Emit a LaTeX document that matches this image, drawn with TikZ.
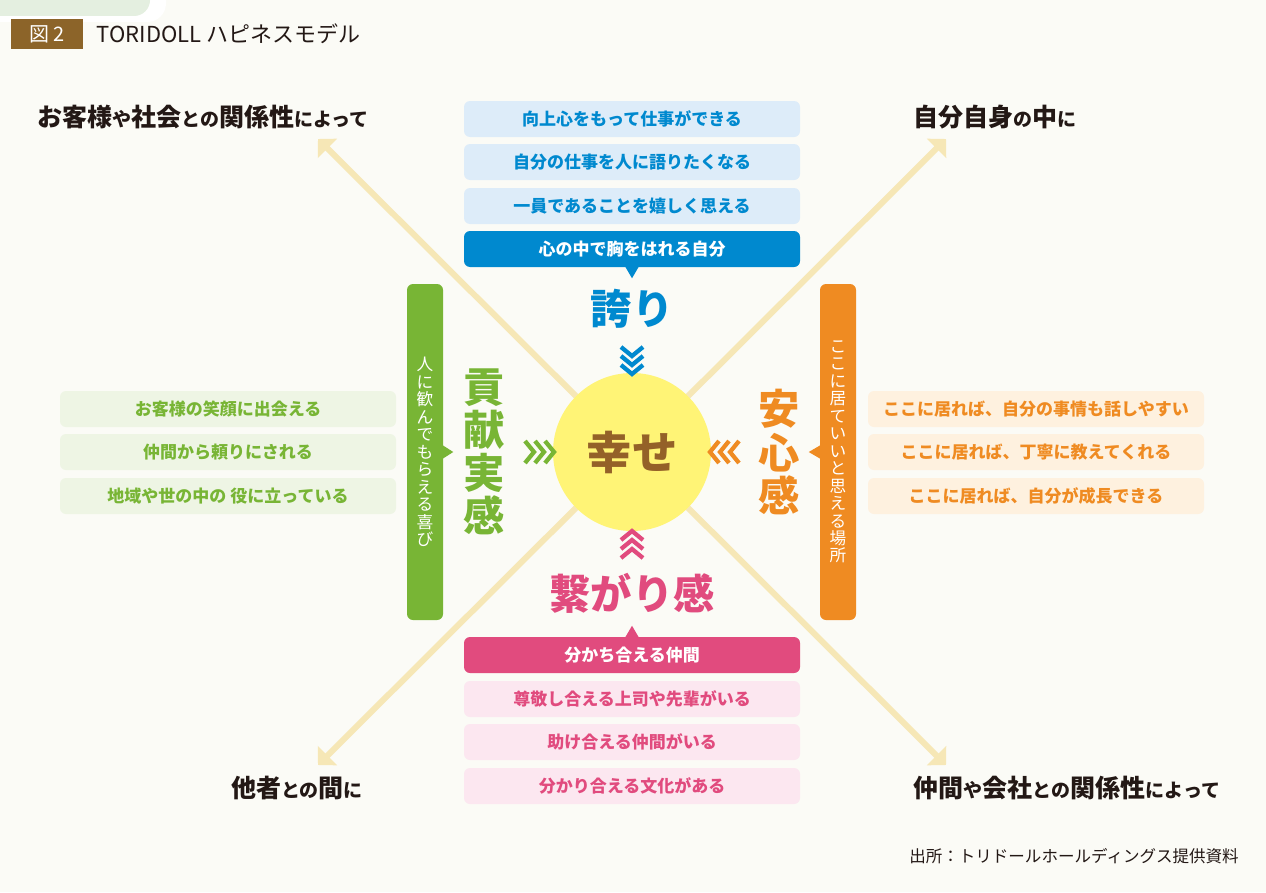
\documentclass[tikz,border=0pt]{standalone}
\usepackage{fontspec}
\setmainfont{Noto Sans CJK JP}
\usepackage{tikz}
\usetikzlibrary{positioning}
\usetikzlibrary{arrows.meta,calc}
\definecolor{bgcol}{HTML}{FBFBF6}
\definecolor{leaf}{HTML}{E4EFE0}
\definecolor{badge}{HTML}{8C6429}
\definecolor{ink}{HTML}{231815}
\definecolor{beam}{HTML}{F6E7B6}
\definecolor{sun}{HTML}{FFF476}
\definecolor{suntext}{HTML}{946128}
\definecolor{prideblue}{HTML}{0089CF}
\definecolor{pridelight}{HTML}{DDECF9}
\definecolor{bondpink}{HTML}{E14B7E}
\definecolor{bondlight}{HTML}{FCE7F0}
\definecolor{givegreen}{HTML}{78B535}
\definecolor{givelight}{HTML}{EEF5E4}
\definecolor{safeorange}{HTML}{EF8B22}
\definecolor{safelight}{HTML}{FEF1DF}
\tikzstyle{itembox}=[rounded corners=4.5pt,minimum width=252pt,minimum height=27pt,inner sep=0pt,font=\fontsize{12.75}{14}\selectfont\bfseries]
\tikzstyle{bigword}=[align=center,inner sep=0pt,font=\fontsize{31}{32.3}\selectfont\bfseries]
\tikzstyle{bar}=[rounded corners=4.5pt,minimum width=27pt,minimum height=252pt,inner sep=0pt,text=white,align=center,font=\fontsize{12.5}{13.1}\selectfont]
\tikzstyle{beamline}=[draw=beam,line width=4.5pt,-{Triangle[width=20pt,length=10pt]}]
\tikzstyle{chevron}=[line width=3.2pt]
\tikzstyle{corner}=[text=ink,inner sep=0pt,font=\fontsize{14.25}{16}\selectfont\bfseries]
\newcommand{\kanji}[1]{{\fontsize{18.75}{20}\selectfont #1}}

\begin{document}
\begin{tikzpicture}[x=0.75pt,y=-0.75pt]
    % Canvas and title
    \useasboundingbox[fill=bgcol] (0,0) rectangle (1266,892);
    \fill[white,rounded corners=14pt] (-40,-40) rectangle (166,22);
    \fill[leaf,rounded corners=12pt] (-40,-40) rectangle (150,16);
    \node[fill=badge,minimum width=54pt,minimum height=22.5pt,inner sep=0pt,text=white,font=\fontsize{15}{16}\selectfont] (fig) at (47,34) {図 2};
    \node[anchor=west,text=ink,font=\fontsize{16.5}{18}\selectfont] (title) at (92,34) {TORIDOLL ハピネスモデル};

    % Diagonal beams first, the sun goes on top
    \coordinate (hub) at (632,452);
    \coordinate (ul) at (318,139);
    \coordinate (ur) at (946,139);
    \coordinate (ll) at (318,765);
    \coordinate (lr) at (946,765);
    \foreach \far in {ul,ur,ll,lr}
        \path[beamline] (hub) -- (\far);
    \node[circle,fill=sun,minimum size=118.5pt,inner sep=0pt,text=suntext,font=\fontsize{34}{36}\selectfont\bfseries] (sun) at (hub) {幸せ};

    % Pride (top)
    \foreach \y/\name/\txt in {119/pride1/向上心をもって仕事ができる, 162/pride2/自分の仕事を人に語りたくなる, 206/pride3/一員であることを嬉しく思える}
        \node[itembox,fill=pridelight,text=prideblue] (\name) at (632,\y) {\txt};
    \node[itembox,fill=prideblue,text=white] (pridehead) at (632,249) {心の中で胸をはれる自分};
    \fill[prideblue] ([xshift=-5.25pt,yshift=0.75pt]pridehead.south) -- ++(7,12) -- ++(7,-12) -- cycle;
    \node[bigword,text=prideblue] (pride) at (632,309) {誇り};

    % Bond (bottom)
    \node[itembox,fill=bondpink,text=white] (bondhead) at (632,655) {分かち合える仲間};
    \fill[bondpink] ([xshift=-5.25pt,yshift=-0.75pt]bondhead.north) -- ++(7,-12) -- ++(7,12) -- cycle;
    \foreach \y/\name/\txt in {699/bond1/尊敬し合える上司や先輩がいる, 742/bond2/助け合える仲間がいる, 786/bond3/分かり合える文化がある}
        \node[itembox,fill=bondlight,text=bondpink] (\name) at (632,\y) {\txt};
    \node[bigword,text=bondpink] (bond) at (632,593) {繋がり感};

    % Contribution (left)
    \foreach \y/\name/\txt in {409/give1/お客様の笑顔に出会える, 452/give2/仲間から頼りにされる, 496/give3/地域や世の中の\ 役に立っている}
        \node[itembox,fill=givelight,text=givegreen] (\name) at (228,\y) {\txt};
    \node[bar,fill=givegreen] (givebar) at (425,452) {人\\に\\歓\\ん\\で\\も\\ら\\え\\る\\喜\\び};
    \fill[givegreen] ([yshift=5.25pt,xshift=-0.75pt]givebar.east) -- ++(11,7) -- ++(-11,7) -- cycle;
    \node[bigword,text=givegreen] (give) at (484,452) {貢\\献\\実\\感};

    % Safety (right)
    \foreach \y/\name/\txt in {409/safe1/ここに居れば、自分の事情も話しやすい, 452/safe2/ここに居れば、丁寧に教えてくれる, 496/safe3/ここに居れば、自分が成長できる}
        \node[itembox,fill=safelight,text=safeorange] (\name) at (1036,\y) {\txt};
    \node[bar,fill=safeorange] (safebar) at (838,452) {こ\\こ\\に\\居\\て\\い\\い\\と\\思\\え\\る\\場\\所};
    \fill[safeorange] ([yshift=5.25pt,xshift=0.75pt]safebar.west) -- ++(-12,7) -- ++(12,7) -- cycle;
    \node[bigword,text=safeorange] (safe) at (779,452) {安\\心\\感};

    % Chevrons into the sun
    \foreach \k in {0,1,2} {
        \draw[chevron,prideblue] (621,347+9*\k) -- (632,356+9*\k) -- (643,347+9*\k);
        \draw[chevron,bondpink] (621,558-9*\k) -- (632,549-9*\k) -- (643,558-9*\k);
        \draw[chevron,givegreen] (525+10*\k,441) -- (534+10*\k,452) -- (525+10*\k,463);
        \draw[chevron,safeorange] (739-10*\k,441) -- (730-10*\k,452) -- (739-10*\k,463);
    }

    % Corner labels
    \node[corner] (society) at (203,117) {\kanji{お客様}や\kanji{社会}との\kanji{関係性}によって};
    \node[corner] (self) at (995,117) {\kanji{自分自身}の\kanji{中}に};
    \node[corner] (others) at (297,788) {\kanji{他者}との\kanji{間}に};
    \node[corner] (company) at (1067,788) {\kanji{仲間}や\kanji{会社}との\kanji{関係性}によって};
    \node[text=ink,font=\fontsize{12.4}{14}\selectfont] (source) at (1074,856) {出所：トリドールホールディングス提供資料};
\end{tikzpicture}
\end{document}
